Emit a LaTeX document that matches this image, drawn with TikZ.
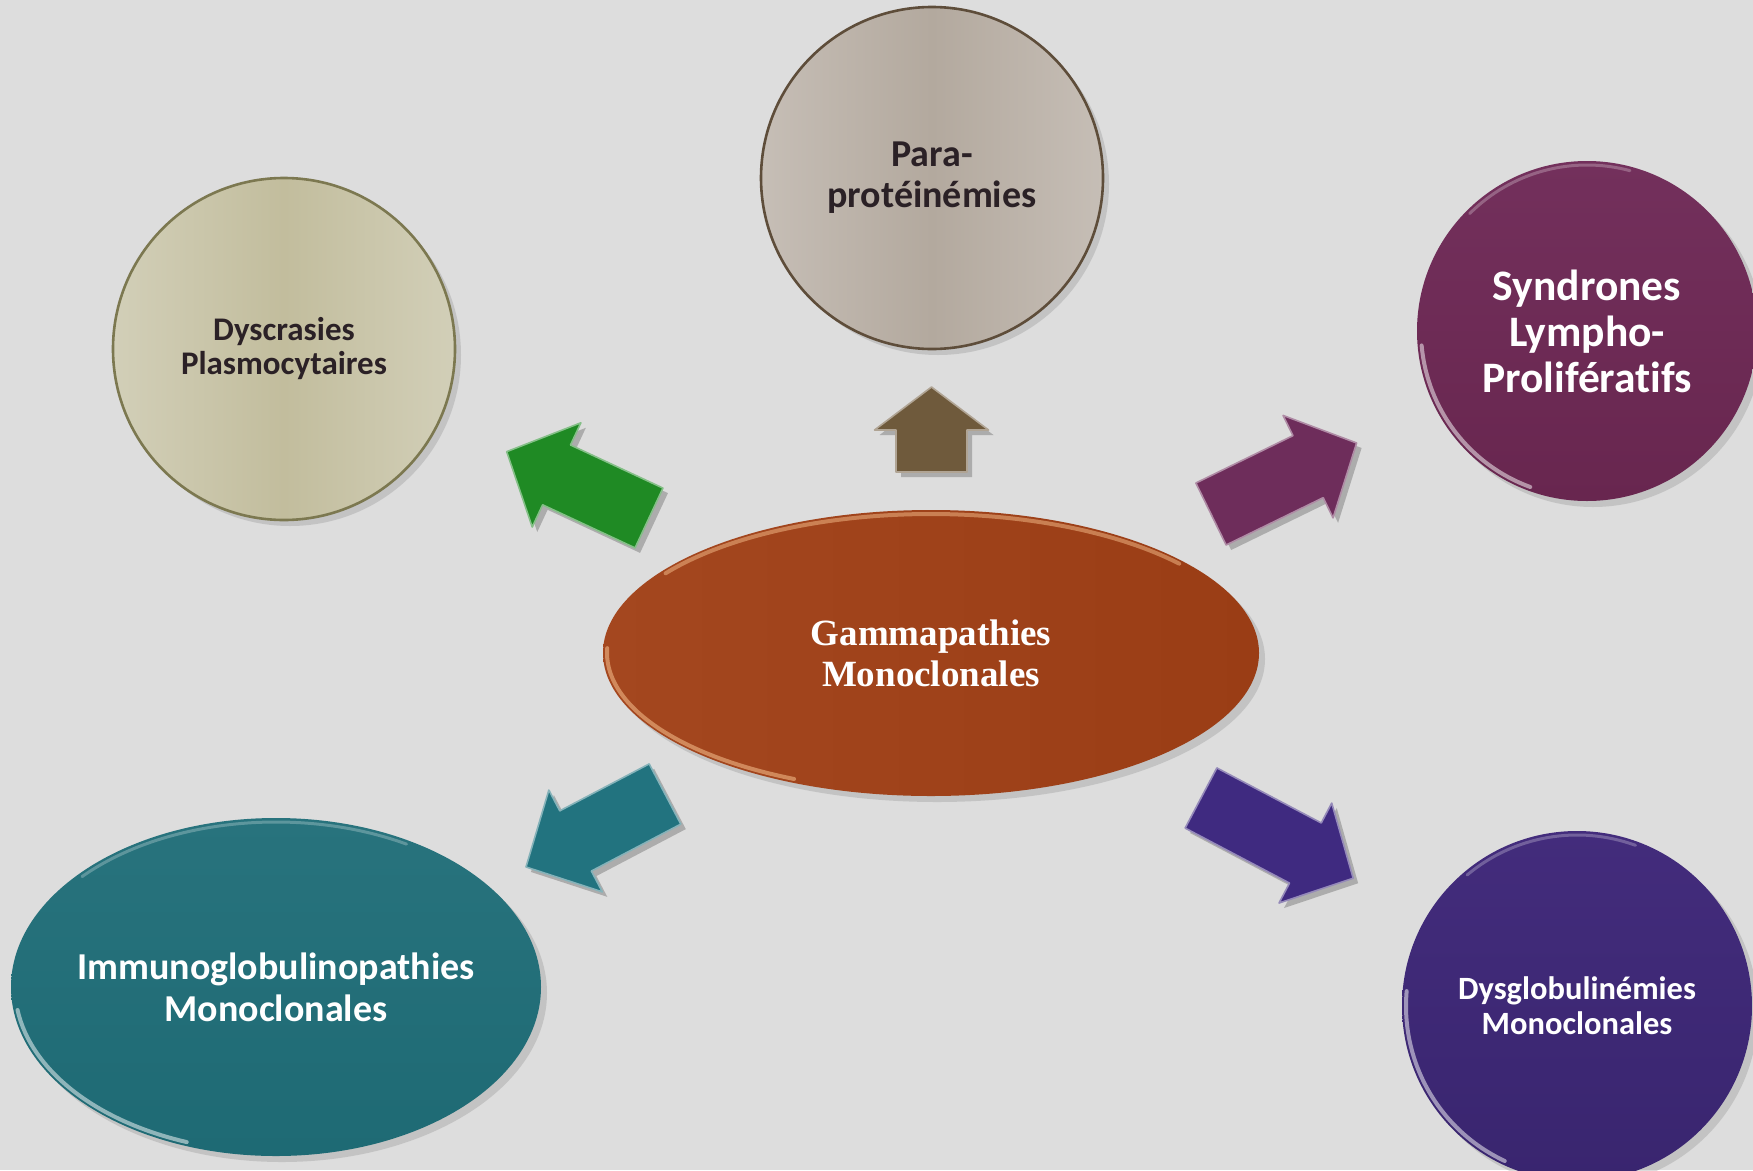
\documentclass[tikz,border=0pt]{standalone}
\usepackage{fontspec}
\setmainfont[Ligatures=NoCommon]{Carlito}
\newfontfamily\gamserif{Liberation Serif}
\usetikzlibrary{shapes.geometric,shadows}
\definecolor{bgcol}{HTML}{DDDDDD}
\definecolor{darktxt}{HTML}{2B2126}
\definecolor{paraA}{HTML}{C6BEB6}
\definecolor{paraB}{HTML}{B3A99E}
\definecolor{paraline}{HTML}{5E4D3A}
\definecolor{dysA}{HTML}{D2CFB8}
\definecolor{dysB}{HTML}{C2BD9D}
\definecolor{dysline}{HTML}{7C7850}
\definecolor{plumA}{HTML}{73305C}
\definecolor{plumB}{HTML}{68264F}
\definecolor{indA}{HTML}{432C7C}
\definecolor{indB}{HTML}{39256F}
\definecolor{tealA}{HTML}{28737D}
\definecolor{tealB}{HTML}{1E6A74}
\definecolor{rustA}{HTML}{A4471F}
\definecolor{rustB}{HTML}{9A3D15}
\definecolor{agreen}{HTML}{1F8A24}
\definecolor{abrown}{HTML}{6F5A3C}
\definecolor{aplum}{HTML}{6E2D5B}
\definecolor{ateal}{HTML}{22737F}
\definecolor{aindigo}{HTML}{3F2A80}
\newcommand\myblockarrow[8]{%
  % #1,#2 tail centre, #3 angle, #4 length, #5 shaft width, #6 head width, #7 head length, #8 colour
  \begin{scope}[shift={(#1+5,#2+5)}, rotate=#3]
    \fill[black, opacity=0.22] (0,-#5/2) -- (#4-#7,-#5/2) -- (#4-#7,-#6/2) -- (#4,0)
      -- (#4-#7,#6/2) -- (#4-#7,#5/2) -- (0,#5/2) -- cycle;
  \end{scope}
  \begin{scope}[shift={(#1,#2)}, rotate=#3]
    \fill[#8, draw=#8!55!white, line width=1.6pt, line join=round]
      (0,-#5/2) -- (#4-#7,-#5/2) -- (#4-#7,-#6/2) -- (#4,0)
      -- (#4-#7,#6/2) -- (#4-#7,#5/2) -- (0,#5/2) -- cycle;
  \end{scope}}
\begin{document}
\begin{tikzpicture}[x=1pt,y=-1pt,
  shp/.style={inner sep=0pt, align=center,
    drop shadow={opacity=0.28, shadow xshift=6pt, shadow yshift=-6pt}},
  lightcirc/.style={shp, circle, minimum size=342pt, line width=2.6pt, text=darktxt},
  darkcirc/.style={shp, circle, minimum size=340pt, text=white},
  bigell/.style={shp, ellipse, inner sep=-80pt, text=white},
  gloss/.style={white, opacity=0.5, line width=4pt, line cap=round},
  glossb/.style={white, opacity=0.25, line width=3pt, line cap=round}]
\useasboundingbox (0,0) rectangle (1753,1170);
\fill[bgcol] (0,0) rectangle (1753,1170);

% arrows
\myblockarrow{931.5}{472}{90}{85}{71}{114}{43}{abrown}
\myblockarrow{649}{518}{155}{157}{66}{115}{55}{agreen}
\myblockarrow{1211}{514}{26}{162}{69}{114}{54}{aplum}
\myblockarrow{665}{794}{207.7}{157}{68}{115}{56}{ateal}
\myblockarrow{1201}{798}{-27.8}{172}{68}{113}{54}{aindigo}

% nodes
\node[lightcirc, draw=paraline, left color=paraA, right color=paraA, middle color=paraB,
  font=\fontsize{38}{41}\selectfont\bfseries] (para) at (932,178) {Para-\\protéinémies};
\node[lightcirc, draw=dysline, left color=dysA, right color=dysA, middle color=dysB,
  font=\fontsize{33}{34}\selectfont\bfseries] (dysc) at (284,349) {Dyscrasies\\Plasmocytaires};
\node[darkcirc, top color=plumA, bottom color=plumB,
  font=\fontsize{43.5}{46}\selectfont\bfseries] (synd) at (1587,331) {Syndrones\\Lympho-\\Prolifératifs};
\node[darkcirc, minimum size=350pt, top color=indA, bottom color=indB,
  font=\fontsize{32.5}{35}\selectfont\bfseries] (dysg) at (1577,1006) {Dysglobulinémies\\Monoclonales};
\node[bigell, minimum width=530pt, minimum height=338pt, top color=tealA, bottom color=tealB,
  font=\fontsize{38}{42}\selectfont\bfseries] (immu) at (276,987) {Immunoglobulinopathies\\Monoclonales};
\node[bigell, minimum width=656pt, minimum height=286pt, left color=rustA, right color=rustB,
  font=\gamserif\fontsize{37}{41}\selectfont\bfseries] (gamma) at (931,653) {Gammapathies\\Monoclonales};

% glossy rims
\draw[gloss] (1587,331) ++(110:166 and 166) arc[start angle=110, end angle=175, x radius=166, y radius=166];
\draw[glossb] (1587,331) ++(225:166 and 166) arc[start angle=225, end angle=285, x radius=166, y radius=166];
\draw[gloss] (1577,1006) ++(115:171 and 171) arc[start angle=115, end angle=185, x radius=171, y radius=171];
\draw[glossb] (1577,1006) ++(230:171 and 171) arc[start angle=230, end angle=290, x radius=171, y radius=171];
\draw[gloss] (276,987) ++(110:261 and 165) arc[start angle=110, end angle=172, x radius=261, y radius=165];
\draw[glossb] (276,987) ++(222:261 and 165) arc[start angle=222, end angle=300, x radius=261, y radius=165];
\draw[gloss, orange!40!white] (931,653) ++(115:324 and 139) arc[start angle=115, end angle=182, x radius=324, y radius=139];
\draw[gloss, orange!40!white, opacity=0.45] (931,653) ++(215:324 and 139) arc[start angle=215, end angle=320, x radius=324, y radius=139];
\end{tikzpicture}
\end{document}
